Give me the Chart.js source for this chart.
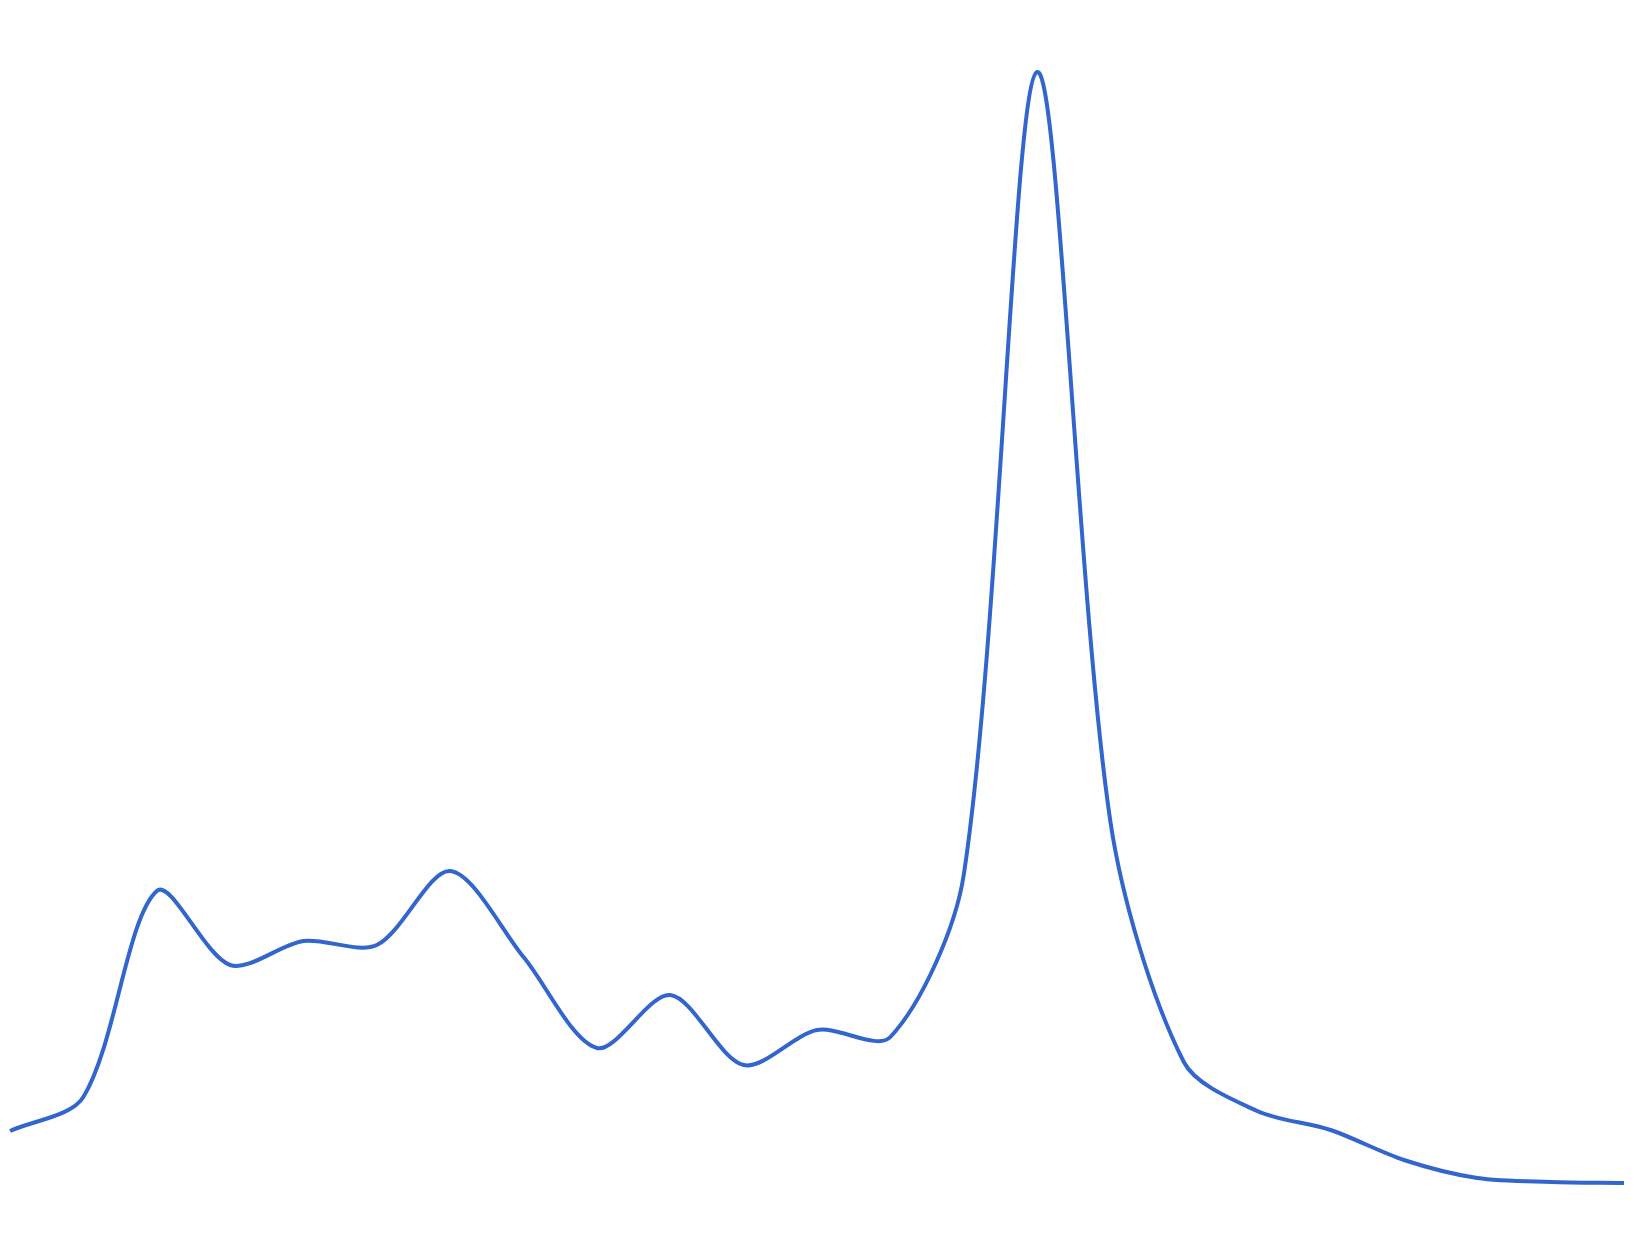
<!DOCTYPE html>
<html>
<head>
<meta charset="utf-8">
<script src="https://cdn.jsdelivr.net/npm/chart.js@4/dist/chart.umd.min.js"></script>
<style>
  html, body { margin: 0; padding: 0; background: #ffffff; }
  #wrap { width: 1634px; height: 1255px; }
</style>
</head>
<body>
<div id="wrap"><canvas id="c" width="1634" height="1255"></canvas></div>
<script>
const categories = ["0","1","2","3","4","5","6","7","8","9","10","11","12","13","14","15","16","17","18","19","20","21","22"];
const values = [124, 158, 364, 290, 314, 310, 384, 298, 207, 260, 190, 225, 218, 380, 1183, 433, 193, 144, 125, 95, 77, 73, 72];
const yMin = 0;
const yMax = 1255;

new Chart(document.getElementById('c'), {
  type: 'line',
  data: {
    labels: categories,
    datasets: [{
      data: values,
      borderColor: '#3366cc',
      borderWidth: 4,
      pointRadius: 0,
      tension: 0.3,
      fill: false
    }]
  },
  options: {
    responsive: false,
    animation: false,
    layout: { padding: { left: 10, right: 10, top: 0, bottom: 0 } },
    plugins: { legend: { display: false }, tooltip: { enabled: false } },
    scales: {
      x: { display: false },
      y: { display: false, min: yMin, max: yMax }
    }
  }
});
</script>
</body>
</html>
